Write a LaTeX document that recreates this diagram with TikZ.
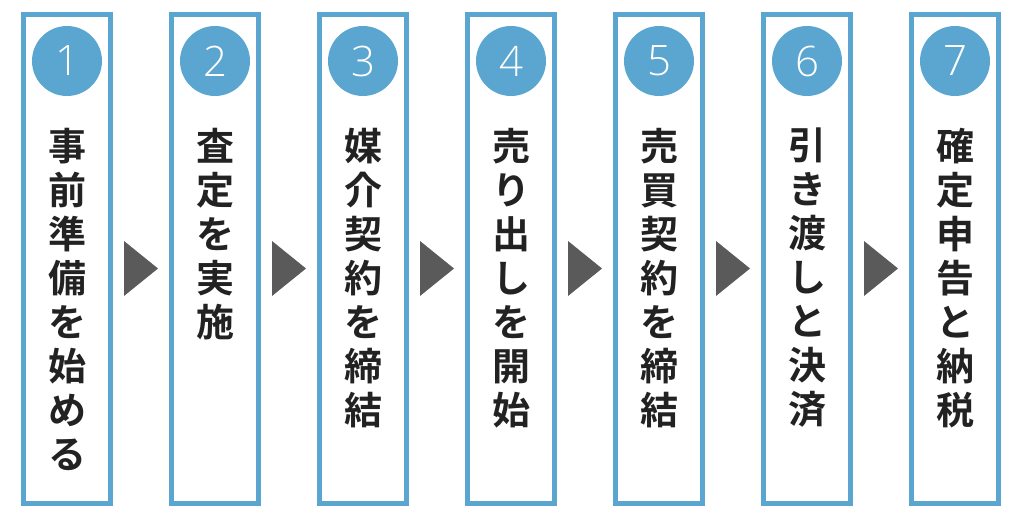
\documentclass[tikz,border=0pt]{standalone}
\usepackage{fontspec}
\newfontfamily\jpfont{Noto Sans CJK JP Bold}
\newfontfamily\numfont{Open Sans Light}
\usetikzlibrary{calc}
\definecolor{frame}{HTML}{5AA6D0}
\definecolor{markgray}{HTML}{5A5A5A}
\definecolor{ink}{HTML}{222222}
\tikzset{
  stepbox/.style={draw=frame,line width=5pt,minimum width=87pt,minimum height=489pt,inner sep=0pt},
  numdot/.style={circle,fill=frame,minimum size=70pt,inner sep=0pt,text=white,font=\numfont\fontsize{42}{42}\selectfont},
  vlabel/.style={anchor=north,align=center,inner sep=0pt,text=ink,font=\jpfont\fontsize{38}{44}\selectfont},
}
\begin{document}
\begin{tikzpicture}[x=1pt,y=-1pt]
\useasboundingbox (0,0) rectangle (1021,519);
% steps
\foreach \i/\txt in {1/{事\\前\\準\\備\\を\\始\\め\\る},2/{査\\定\\を\\実\\施},3/{媒\\介\\契\\約\\を\\締\\結},4/{売\\り\\出\\し\\を\\開\\始},5/{売\\買\\契\\約\\を\\締\\結},6/{引\\き\\渡\\し\\と\\決\\済},7/{確\\定\\申\\告\\と\\納\\税}}{
  \node[stepbox] (step\i) at ({67+148*(\i-1)},259) {};
  \node[numdot] (num\i) at ($(step\i.north)+(0,49)$) {\i};
  \node[vlabel] (text\i) at ($(step\i.north)+(0,116)$) {\txt};
}
% markers between steps
\foreach \i [evaluate=\i as \j using int(\i+1)] in {1,...,6}{
  \fill[markgray] ($(step\i.east)+(11,-18)$) -- ($(step\j.west)+(-11,9.5)$) -- ($(step\i.east)+(11,37)$) -- cycle;
}
\end{tikzpicture}
\end{document}
